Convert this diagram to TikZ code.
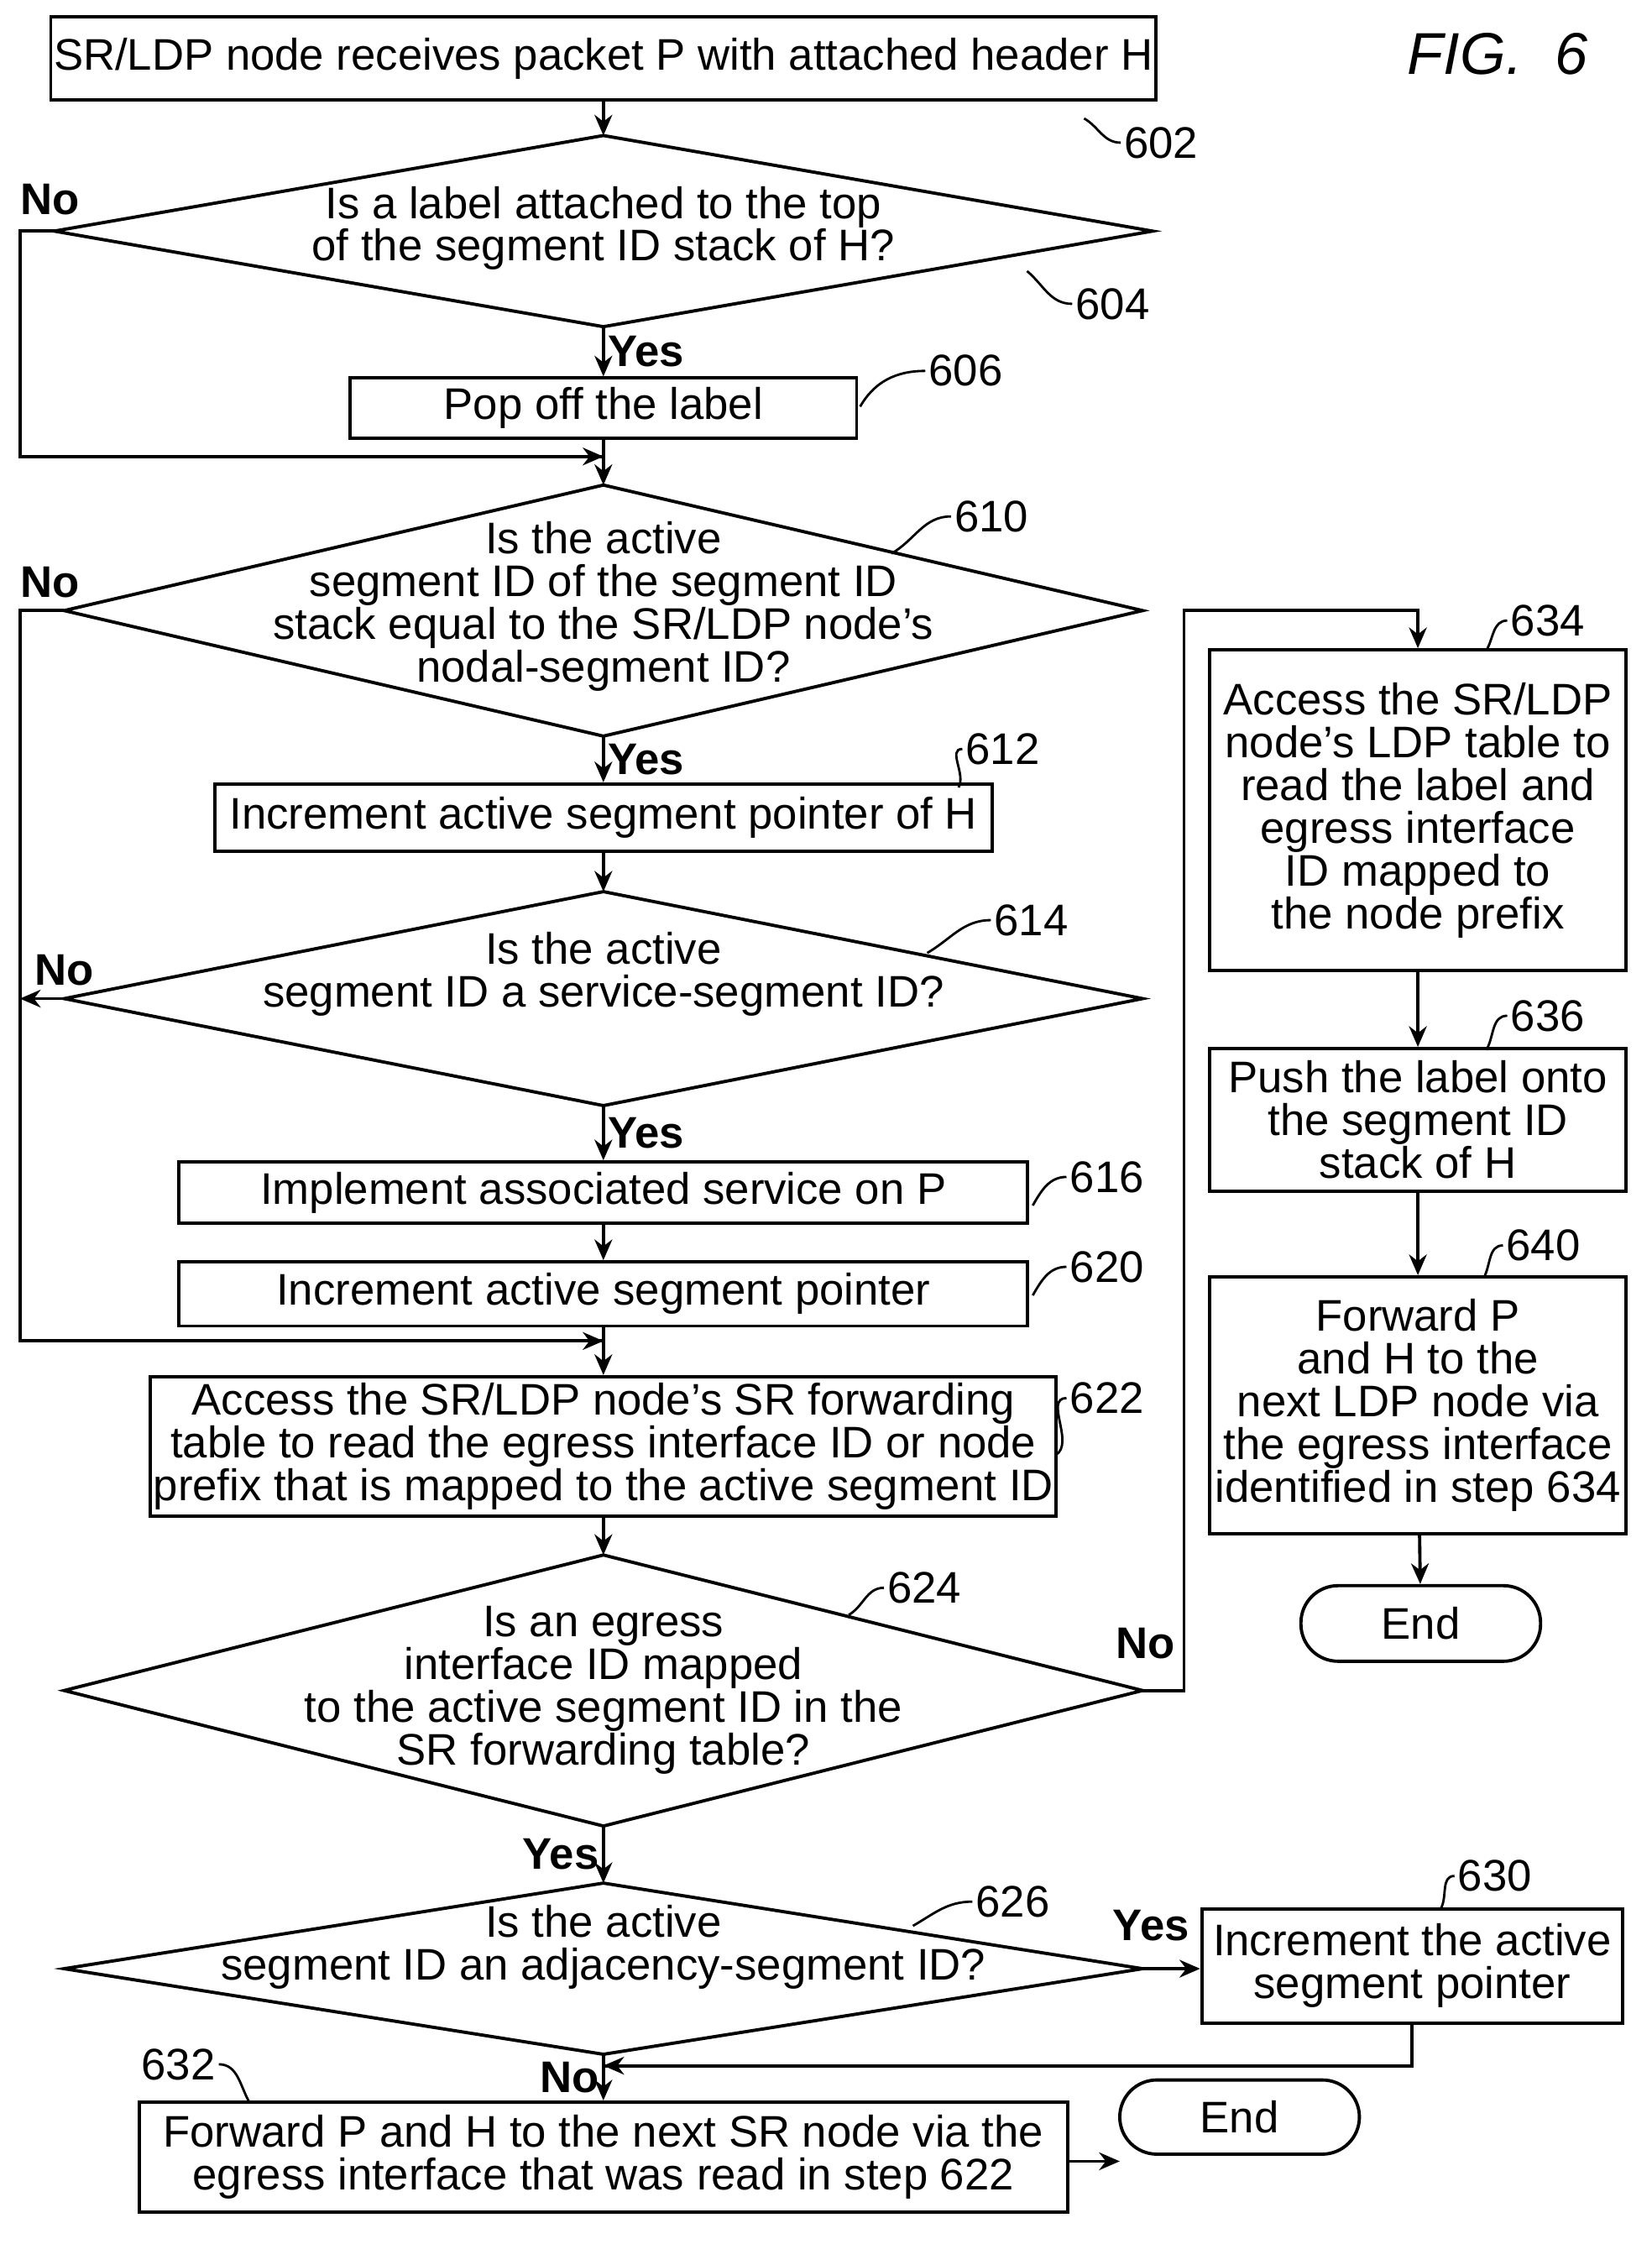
\documentclass[tikz,border=0pt]{standalone}
\usepackage{fontspec}
\setmainfont{Liberation Sans}
\usetikzlibrary{arrows.meta}
\newcommand\dia[5]{% name, cx, cy, half width, half height
  \coordinate (#1-t) at (#2,{#3-#5});
  \coordinate (#1-b) at (#2,{#3+#5});
  \coordinate (#1-l) at ({#2-#4},#3);
  \coordinate (#1-r) at ({#2+#4},#3);
  \draw[line] (#1-t) -- (#1-r) -- (#1-b) -- (#1-l) -- cycle;}
\tikzset{
    line/.style={line width=1.1pt},
    box/.style={line, draw, align=center, inner sep=1pt},
    dtext/.style={align=center, inner sep=0pt},
    lbl/.style={font=\fontsize{15}{15}\selectfont, inner sep=1pt},
    flow/.style={line, -{Stealth[length=7pt,width=6pt]}},
    ref/.style={line width=0.8pt},
}
\begin{document}
\begin{tikzpicture}[x=0.017cm,y=-0.017cm,font=\fontsize{15}{14.5}\selectfont]
\useasboundingbox (0,0) rectangle (1158,1573);
\node[font=\fontsize{20}{20}\selectfont\rmfamily\itshape] (fig) at (1050,38) {FIG.\ \ 6};
% top box
\node[box, minimum width=770*0.017cm, minimum height=58*0.017cm] (b602) at (423,41) {SR/LDP node receives packet P with attached header H};
\dia{d604}{423}{162}{385}{67}
\node[dtext] (t604) at (423,160) {Is a label attached to the top\\of the segment ID stack of H?};
\node[box, minimum width=355*0.017cm, minimum height=42*0.017cm] (b606) at (423,286) {Pop off the label};
\coordinate (j1) at (423,320);
\dia{d610}{423}{428}{378}{88}
\node[dtext] (t610) at (423,425) {Is the active\\segment ID of the segment ID\\stack equal to the SR/LDP node's\\nodal-segment ID?};
\node[box, minimum width=545*0.017cm, minimum height=47*0.017cm] (b612) at (423,573) {Increment active segment pointer of H};
\dia{d614}{423}{700}{378}{75}
\node[dtext] (t614) at (423,683) {Is the active\\segment ID a service-segment ID?};
\node[box, minimum width=595*0.017cm, minimum height=43*0.017cm] (b616) at (423,836) {Implement associated service on P};
\node[box, minimum width=595*0.017cm, minimum height=45*0.017cm] (b620) at (423,907) {Increment active segment pointer};
\coordinate (j2) at (423,940);
\node[box, minimum width=629*0.017cm, minimum height=98*0.017cm] (b622) at (423,1014) {Access the SR/LDP node's SR forwarding\\table to read the egress interface ID or node\\prefix that is mapped to the active segment ID};
\dia{d624}{423}{1185}{378}{95}
\node[dtext] (t624) at (423,1185) {Is an egress\\interface ID mapped\\to the active segment ID in the\\SR forwarding table?};
\dia{d626}{423}{1380}{378}{60}
\node[dtext] (t626) at (423,1365) {Is the active\\segment ID an adjacency-segment ID?};
\node[box, minimum width=295*0.017cm, minimum height=80*0.017cm] (b630) at (990,1378) {Increment the active\\segment pointer};
\coordinate (j3) at (423,1448);
\node[box, minimum width=651*0.017cm, minimum height=77*0.017cm] (b632) at (423,1512) {Forward P and H to the next SR node via the\\egress interface that was read in step 622};
\node[line, draw, rounded corners=26*0.017cm, minimum width=168*0.017cm, minimum height=52*0.017cm] (end2) at (869,1484) {End};
% right column
\node[box, minimum width=292*0.017cm, minimum height=225*0.017cm] (b634) at (994,568) {Access the SR/LDP\\node's LDP table to\\read the label and\\egress interface\\ID mapped to\\the node prefix};
\node[box, minimum width=292*0.017cm, minimum height=100*0.017cm] (b636) at (994,785) {Push the label onto\\the segment ID\\stack of H};
\node[box, minimum width=292*0.017cm, minimum height=180*0.017cm] (b640) at (994,985) {Forward P\\and H to the\\next LDP node via\\the egress interface\\identified in step 634};
\node[line, draw, rounded corners=26*0.017cm, minimum width=168*0.017cm, minimum height=53*0.017cm] (end1) at (996,1138) {End};
% connectors
\draw[flow] (b602) -- (d604-t);
\draw[flow] (d604-b) -- node[right, lbl, font=\fontsize{15}{15}\selectfont\bfseries] (y604) {Yes} (b606);
\draw[line] (d604-l) -- (14,162) -- (14,320) -- (j1);
\draw[flow] (b606) -- (d610-t);
\draw[flow] (j1) ++(-30,0) -- (j1);
\draw[flow] (d610-b) -- node[right, lbl, font=\fontsize{15}{15}\selectfont\bfseries] (y610) {Yes} (b612);
\draw[line] (d610-l) -- (14,428) -- (14,940) -- (j2);
\draw[flow] (b612) -- (d614-t);
\draw[flow] (d614-l) -- (14,700);
\draw[flow] (d614-b) -- node[right, lbl, font=\fontsize{15}{15}\selectfont\bfseries] (y614) {Yes} (b616);
\draw[flow] (b616) -- (b620);
\draw[line] (b620) -- (j2);
\draw[flow] (j2) ++(-30,0) -- (j2);
\draw[flow] (j2) -- (b622);
\draw[flow] (b622) -- (d624-t);
\draw[flow] (d624-r) -- (830,1185) -- (830,428) -- (994,428) -- (b634.north);
\draw[flow] (b634) -- (b636);
\draw[flow] (b636) -- (b640);
\draw[flow] (b640) -- (end1);
\draw[flow] (d624-b) -- node[left, lbl, font=\fontsize{15}{15}\selectfont\bfseries] (y624) {Yes} (d626-t);
\draw[flow] (d626-r) -- (b630.west |- d626-r);
\draw[line] (b630.south) -- (990,1448) -- (j3);
\draw[flow] (j3) ++(40,0) -- (j3);
\draw[flow] (d626-b) -- node[left, lbl, font=\fontsize{15}{15}\selectfont\bfseries] (n626) {No} (b632);
\draw[flow] (b632.east |- 0,1515) -- (785,1515);
% yes/no labels
\node[lbl, font=\fontsize{15}{15}\selectfont\bfseries] (n604) at (35,140) {No};
\node[lbl, font=\fontsize{15}{15}\selectfont\bfseries] (n610) at (35,408) {No};
\node[lbl, font=\fontsize{15}{15}\selectfont\bfseries] (n614) at (45,680) {No};
\node[lbl, font=\fontsize{15}{15}\selectfont\bfseries] (n624) at (803,1152) {No};
\node[lbl, font=\fontsize{15}{15}\selectfont\bfseries] (y626) at (807,1350) {Yes};
% reference numerals
\node[lbl] (r602) at (814,100) {602};
\draw[ref] (r602.west) to[out=180,in=-30] (760,83);
\node[lbl] (r604) at (780,213) {604};
\draw[ref] (r604.west) to[out=180,in=-40] (720,190);
\node[lbl] (r606) at (677,260) {606};
\draw[ref] (r606.west) to[out=180,in=60] (603,285);
\node[lbl] (r610) at (695,362) {610};
\draw[ref] (r610.west) to[out=180,in=30] (625,388);
\node[lbl] (r612) at (703,525) {612};
\draw[ref] (r612.west) to[out=180,in=60] (672,552);
\node[lbl] (r614) at (723,645) {614};
\draw[ref] (r614.west) to[out=180,in=30] (650,668);
\node[lbl] (r616) at (776,825) {616};
\draw[ref] (r616.west) to[out=180,in=60] (724,845);
\node[lbl] (r620) at (776,888) {620};
\draw[ref] (r620.west) to[out=180,in=60] (724,908);
\node[lbl] (r622) at (776,980) {622};
\draw[ref] (r622.west) to[out=180,in=30] (740,1020);
\node[lbl] (r624) at (648,1113) {624};
\draw[ref] (r624.west) to[out=180,in=30] (595,1132);
\node[lbl] (r626) at (710,1333) {626};
\draw[ref] (r626.west) to[out=180,in=30] (640,1350);
\node[lbl] (r630) at (1048,1315) {630};
\draw[ref] (r630.west) to[out=180,in=60] (1010,1338);
\node[lbl] (r632) at (125,1447) {632};
\draw[ref] (r632.east) to[out=0,in=120] (175,1474);
\node[lbl] (r634) at (1085,435) {634};
\draw[ref] (r634.west) to[out=180,in=60] (1042,456);
\node[lbl] (r636) at (1085,712) {636};
\draw[ref] (r636.west) to[out=180,in=60] (1042,736);
\node[lbl] (r640) at (1082,873) {640};
\draw[ref] (r640.west) to[out=180,in=60] (1040,896);
\end{tikzpicture}
\end{document}
